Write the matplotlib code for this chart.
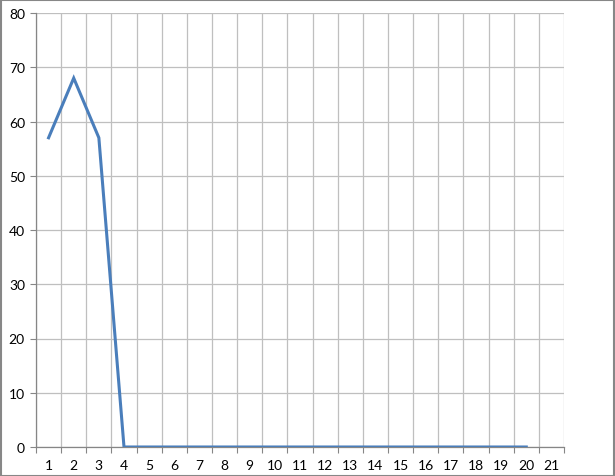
import matplotlib
matplotlib.use("Agg")
import matplotlib.pyplot as plt
from matplotlib.patches import Rectangle

categories = list(range(1, 22))
values = [57, 68, 57, 0, 0, 0, 0, 0, 0, 0, 0, 0, 0, 0, 0, 0, 0, 0, 0, 0]
yticks = [0, 10, 20, 30, 40, 50, 60, 70, 80]

plt.rcParams['font.family'] = ['Lato', 'DejaVu Sans']

W, H = 615, 477
fig = plt.figure(figsize=(W / 100, H / 100), dpi=100)
ax = fig.add_axes([36 / W, (H - 448) / H, (564 - 36) / W, (448 - 14) / H])

ax.plot(categories[:len(values)], values, color='#4A7EBB', linewidth=2.2, solid_joinstyle='miter', zorder=3)

ax.set_xlim(0.5, len(categories) + 0.5)
ax.set_ylim(0, 80)

ax.set_xticks(categories)
ax.set_xticklabels([str(c) for c in categories])
ax.set_xticks([c + 0.5 for c in [0] + categories], minor=True)
ax.tick_params(axis='x', which='major', length=0, pad=9, labelsize=10, colors='black')
ax.tick_params(axis='x', which='minor', length=4, color='#868686', width=0.8)

ax.set_yticks(yticks)
ax.tick_params(axis='y', which='major', length=4, color='#868686', width=0.8, pad=4, labelsize=10, labelcolor='black')

ax.grid(True, axis='y', which='major', color='#BFBFBF', linewidth=0.9)
ax.grid(True, axis='x', which='minor', color='#BFBFBF', linewidth=0.9)
ax.grid(False, axis='x', which='major')

for s in ['top', 'right']:
    ax.spines[s].set_visible(False)
for s in ['left', 'bottom']:
    ax.spines[s].set_color('#868686')
    ax.spines[s].set_linewidth(0.9)

fig.patches.append(Rectangle((0.5 / W, 0.5 / H), 1 - 1.5 / W, 1 - 1.5 / H, transform=fig.transFigure,
                             fill=False, edgecolor='#878787', linewidth=1.5))

fig.savefig('out.png', dpi=100)
